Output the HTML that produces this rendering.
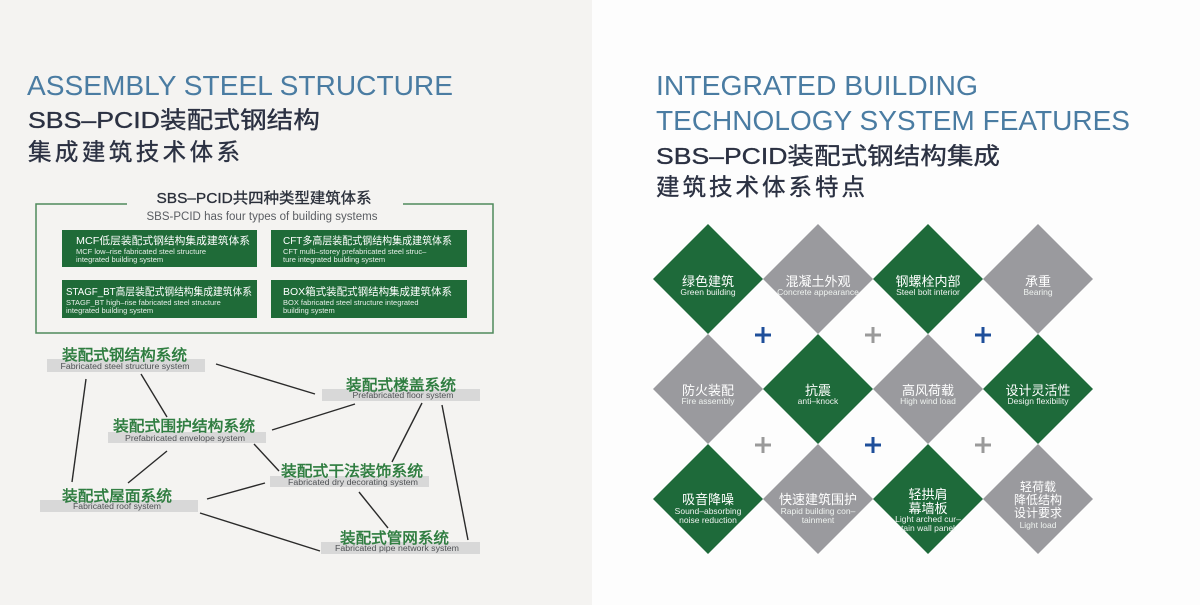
<!DOCTYPE html>
<html>
<head>
<meta charset="utf-8">
<style>
html,body{margin:0;padding:0;}
body{width:1200px;height:605px;overflow:hidden;background:#fdfdfd;}
svg{display:block;}
.f{font-family:"Liberation Sans","Noto Sans CJK SC",sans-serif;}
</style>
</head>
<body>
<svg class="f" width="1200" height="605" viewBox="0 0 1200 605" xmlns="http://www.w3.org/2000/svg">
  <rect x="0" y="0" width="592" height="605" fill="#f4f3f1"/>
  <rect x="592" y="0" width="608" height="605" fill="#fdfdfd"/>

  <!-- LEFT TITLES -->
  <text x="27" y="95" font-size="28" fill="#4a7ca2" textLength="426" lengthAdjust="spacingAndGlyphs">ASSEMBLY STEEL STRUCTURE</text>
  <text x="28" y="128" font-size="23.5" fill="#2b3142" stroke="#2b3142" stroke-width="0.35" textLength="292" lengthAdjust="spacingAndGlyphs">SBS–PCID装配式钢结构</text>
  <text x="28" y="160" font-size="23.5" fill="#2b3142" stroke="#2b3142" stroke-width="0.35" textLength="212" lengthAdjust="spacing">集成建筑技术体系</text>

  <!-- Outline box -->
  <path d="M127 204 H36 V333 H493 V204 H403" fill="none" stroke="#4f8a5c" stroke-width="1.5"/>
  <text x="264" y="203" font-size="15" fill="#2a2f3a" text-anchor="middle" stroke="#2a2f3a" stroke-width="0.3" textLength="215" lengthAdjust="spacingAndGlyphs">SBS–PCID共四种类型建筑体系</text>
  <text x="262" y="220" font-size="11.5" fill="#5a5d62" text-anchor="middle" textLength="231" lengthAdjust="spacingAndGlyphs">SBS-PCID has four types of building systems</text>

  <!-- green boxes -->
  <rect x="62" y="230" width="195" height="37" fill="#1f6b38"/>
  <rect x="271" y="230" width="196" height="37" fill="#1f6b38"/>
  <rect x="62" y="280" width="195" height="38" fill="#1f6b38"/>
  <rect x="271" y="280" width="196" height="38" fill="#1f6b38"/>
  <g fill="#ffffff">
    <text x="76" y="244" font-size="10.5" textLength="174" lengthAdjust="spacingAndGlyphs">MCF低层装配式钢结构集成建筑体系</text>
    <text x="76" y="254" font-size="7.5" fill="#e6eee8">MCF low–rise fabricated steel structure</text>
    <text x="76" y="262" font-size="7.5" fill="#e6eee8">integrated building system</text>

    <text x="283" y="244" font-size="10.5" textLength="169" lengthAdjust="spacingAndGlyphs">CFT多高层装配式钢结构集成建筑体系</text>
    <text x="283" y="254" font-size="7.5" fill="#e6eee8">CFT multi–storey prefabricated steel struc–</text>
    <text x="283" y="262" font-size="7.5" fill="#e6eee8">ture integrated building system</text>

    <text x="66" y="295" font-size="10.5" textLength="186" lengthAdjust="spacingAndGlyphs">STAGF_BT高层装配式钢结构集成建筑体系</text>
    <text x="66" y="305" font-size="7.5" fill="#e6eee8">STAGF_BT high–rise fabricated steel structure</text>
    <text x="66" y="313" font-size="7.5" fill="#e6eee8">integrated building system</text>

    <text x="283" y="295" font-size="10.5" textLength="169" lengthAdjust="spacingAndGlyphs">BOX箱式装配式钢结构集成建筑体系</text>
    <text x="283" y="305" font-size="7.5" fill="#e6eee8">BOX fabricated steel structure integrated</text>
    <text x="283" y="313" font-size="7.5" fill="#e6eee8">building system</text>
  </g>

  <!-- network lines -->
  <g stroke="#2a2a2a" stroke-width="1.4" fill="none">
    <line x1="216" y1="364" x2="315" y2="394"/>
    <line x1="86" y1="379" x2="72" y2="482"/>
    <line x1="141" y1="374" x2="167" y2="417"/>
    <line x1="272" y1="430" x2="355" y2="404"/>
    <line x1="167" y1="451" x2="128" y2="483"/>
    <line x1="254" y1="444" x2="279" y2="471"/>
    <line x1="422" y1="403" x2="392" y2="462"/>
    <line x1="442" y1="405" x2="468" y2="540"/>
    <line x1="207" y1="499" x2="265" y2="483"/>
    <line x1="200" y1="513" x2="320" y2="551"/>
    <line x1="359" y1="492" x2="388" y2="528"/>
  </g>

  <!-- network bands -->
  <g fill="#d8d8d8">
    <rect x="47" y="359" width="158" height="13"/>
    <rect x="322" y="389" width="158" height="12"/>
    <rect x="108" y="432" width="158" height="11"/>
    <rect x="270" y="476" width="159" height="11"/>
    <rect x="40" y="500" width="158" height="12"/>
    <rect x="321" y="542" width="159" height="12"/>
  </g>
  <g font-size="15" fill="#2f7d40" stroke="#2f7d40" stroke-width="0.5">
    <text x="62" y="360" textLength="125" lengthAdjust="spacingAndGlyphs">装配式钢结构系统</text>
    <text x="346" y="390" textLength="110" lengthAdjust="spacingAndGlyphs">装配式楼盖系统</text>
    <text x="113" y="431" textLength="142" lengthAdjust="spacingAndGlyphs">装配式围护结构系统</text>
    <text x="281" y="476" textLength="142" lengthAdjust="spacingAndGlyphs">装配式干法装饰系统</text>
    <text x="62" y="501" textLength="110" lengthAdjust="spacingAndGlyphs">装配式屋面系统</text>
    <text x="340" y="543" textLength="109" lengthAdjust="spacingAndGlyphs">装配式管网系统</text>
  </g>
  <g font-size="8" fill="#4e5154" text-anchor="middle">
    <text x="125" y="369" textLength="129" lengthAdjust="spacingAndGlyphs">Fabricated steel structure system</text>
    <text x="403" y="398" textLength="101" lengthAdjust="spacingAndGlyphs">Prefabricated floor system</text>
    <text x="185" y="441" textLength="120" lengthAdjust="spacingAndGlyphs">Prefabricated envelope system</text>
    <text x="353" y="485" textLength="130" lengthAdjust="spacingAndGlyphs">Fabricated dry decorating system</text>
    <text x="117" y="509" textLength="88" lengthAdjust="spacingAndGlyphs">Fabricated roof system</text>
    <text x="397" y="551" textLength="124" lengthAdjust="spacingAndGlyphs">Fabricated pipe network system</text>
  </g>

  <!-- RIGHT TITLES -->
  <text x="656" y="95" font-size="28" fill="#4a7ca2" textLength="322" lengthAdjust="spacingAndGlyphs">INTEGRATED BUILDING</text>
  <text x="656" y="130" font-size="28" fill="#4a7ca2" textLength="474" lengthAdjust="spacingAndGlyphs">TECHNOLOGY SYSTEM FEATURES</text>
  <text x="656" y="164" font-size="23.5" fill="#2b3142" stroke="#2b3142" stroke-width="0.35" textLength="344" lengthAdjust="spacingAndGlyphs">SBS–PCID装配式钢结构集成</text>
  <text x="656" y="195" font-size="23.5" fill="#2b3142" stroke="#2b3142" stroke-width="0.35" textLength="209" lengthAdjust="spacing">建筑技术体系特点</text>

  <!-- DIAMONDS -->
  <g>
    <polygon points="708,224 763,279 708,334 653,279" fill="#1e6a3a"/>
    <polygon points="818,224 873,279 818,334 763,279" fill="#9a9a9e"/>
    <polygon points="928,224 983,279 928,334 873,279" fill="#1e6a3a"/>
    <polygon points="1038,224 1093,279 1038,334 983,279" fill="#9a9a9e"/>
    <polygon points="708,334 763,389 708,444 653,389" fill="#9a9a9e"/>
    <polygon points="818,334 873,389 818,444 763,389" fill="#1e6a3a"/>
    <polygon points="928,334 983,389 928,444 873,389" fill="#9a9a9e"/>
    <polygon points="1038,334 1093,389 1038,444 983,389" fill="#1e6a3a"/>
    <polygon points="708,444 763,499 708,554 653,499" fill="#1e6a3a"/>
    <polygon points="818,444 873,499 818,554 763,499" fill="#9a9a9e"/>
    <polygon points="928,444 983,499 928,554 873,499" fill="#1e6a3a"/>
    <polygon points="1038,444 1093,499 1038,554 983,499" fill="#9a9a9e"/>
  </g>

  <!-- plus signs -->
  <g stroke-width="3">
    <path d="M755 335 H771 M763 327 V343" stroke="#1f4f9a"/>
    <path d="M865 335 H881 M873 327 V343" stroke="#9a9a9a"/>
    <path d="M975 335 H991 M983 327 V343" stroke="#1f4f9a"/>
    <path d="M755 445 H771 M763 437 V453" stroke="#9a9a9a"/>
    <path d="M865 445 H881 M873 437 V453" stroke="#1f4f9a"/>
    <path d="M975 445 H991 M983 437 V453" stroke="#9a9a9a"/>
  </g>

  <!-- diamond text -->
  <g fill="#ffffff" text-anchor="middle">
    <g font-size="13">
      <text x="708" y="286">绿色建筑</text>
      <text x="818" y="286">混凝土外观</text>
      <text x="928" y="286">钢螺栓内部</text>
      <text x="1038" y="286">承重</text>
      <text x="708" y="395">防火装配</text>
      <text x="818" y="395">抗震</text>
      <text x="928" y="395">高风荷载</text>
      <text x="1038" y="395">设计灵活性</text>
      <text x="708" y="504">吸音降噪</text>
      <text x="818" y="504">快速建筑围护</text>
      <text x="928" y="499">轻拱肩</text>
      <text x="928" y="513">幕墙板</text>
    </g>
    <g font-size="12">
      <text x="1038" y="491">轻荷载</text>
      <text x="1038" y="504">降低结构</text>
      <text x="1038" y="517">设计要求</text>
    </g>
    <g font-size="8.5" fill="#eef2ef">
      <text x="708" y="295">Green building</text>
      <text x="818" y="295">Concrete appearance</text>
      <text x="928" y="295">Steel bolt interior</text>
      <text x="1038" y="295">Bearing</text>
      <text x="708" y="404">Fire assembly</text>
      <text x="818" y="404">anti–knock</text>
      <text x="928" y="404">High wind load</text>
      <text x="1038" y="404">Design flexibility</text>
      <text x="708" y="514">Sound–absorbing</text>
      <text x="708" y="523">noise reduction</text>
      <text x="818" y="514">Rapid building con–</text>
      <text x="818" y="523">tainment</text>
      <text x="928" y="522">Light arched cur–</text>
      <text x="928" y="531">tain wall panel</text>
      <text x="1038" y="528">Light load</text>
    </g>
  </g>
</svg>
</body>
</html>
